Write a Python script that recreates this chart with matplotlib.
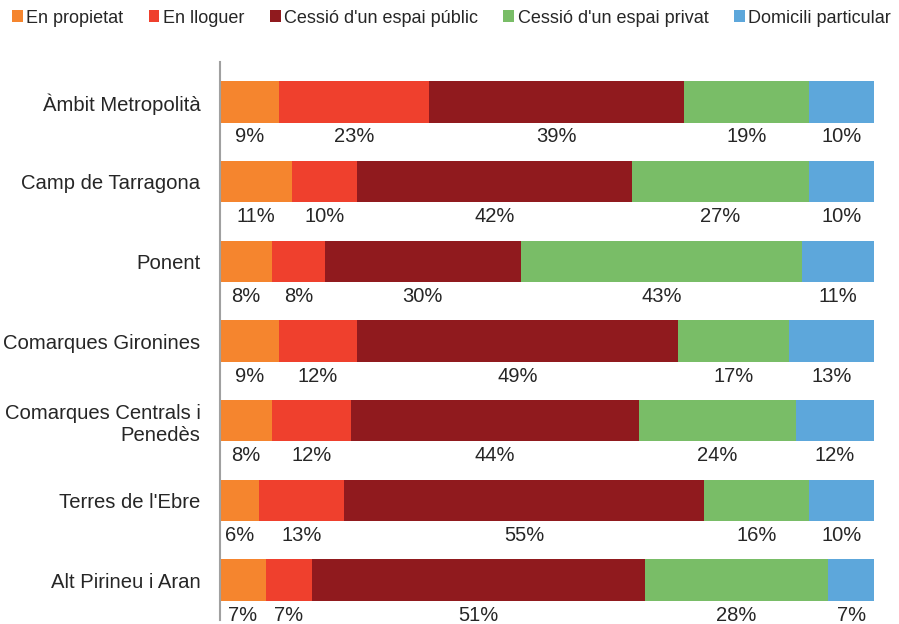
import numpy as np
import matplotlib.pyplot as plt

plt.rcParams['font.family'] = ['Liberation Sans', 'DejaVu Sans']

regions = ['Àmbit Metropolità', 'Camp de Tarragona', 'Ponent', 'Comarques Gironines',
           'Comarques Centrals i\nPenedès', "Terres de l'Ebre", 'Alt Pirineu i Aran']
series = ['En propietat', 'En lloguer', "Cessió d'un espai públic",
          "Cessió d'un espai privat", 'Domicili particular']

propietat = [9, 11, 8, 9, 8, 6, 7]
lloguer = [23, 10, 8, 12, 12, 13, 7]
espai_public = [39, 42, 30, 49, 44, 55, 51]
espai_privat = [19, 27, 43, 17, 24, 16, 28]
domicili = [10, 10, 11, 13, 12, 10, 7]

colors = ['#F5852E', '#EF402D', '#901A1E', '#79BD67', '#5DA7DB']

values = np.array([propietat, lloguer, espai_public, espai_privat, domicili], dtype=float)

fig = plt.figure(figsize=(8.99, 6.24), dpi=100)
ax = fig.add_axes([0.2447, 0.0064, 0.7275, 0.8942])

y = np.arange(len(regions))
bar_h = 0.52
left = np.zeros(len(regions))
for vals, name, col in zip(values, series, colors):
    ax.barh(y, vals, left=left, height=bar_h, color=col, label=name)
    for yi, (l, v) in enumerate(zip(left, vals)):
        ax.text(l + v / 2, yi + bar_h / 2 + 0.18, f'{int(v)}%', ha='center', va='center',
                fontsize=14.5, color='#262626')
    left += vals

ax.set_xlim(0, 100)
ax.set_ylim(len(regions) - 0.5, -0.5)
ax.set_yticks(y)
ax.set_yticklabels(regions, fontsize=14.6, color='#262626', ha='right', multialignment='right')
ax.tick_params(axis='y', length=0, pad=14)
ax.set_xticks([])
for side in ['top', 'right', 'bottom']:
    ax.spines[side].set_visible(False)
ax.spines['left'].set_color('#A0A0A0')
ax.spines['left'].set_linewidth(1.5)

fig.legend(loc='upper left', bbox_to_anchor=(-0.001, 1.005), ncol=5, frameon=False,
           fontsize=13, handlelength=0.6, handleheight=0.6, handletextpad=0.2,
           columnspacing=1.4, borderaxespad=0.3, labelcolor='#262626')

fig.savefig('out.png', dpi=100)
